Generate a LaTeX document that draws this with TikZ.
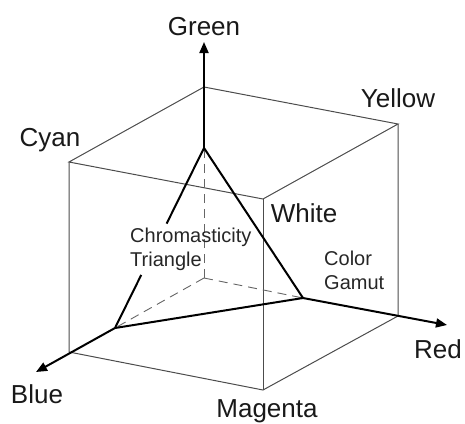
\documentclass[tikz,border=0pt]{standalone}
\usepackage{fontspec}
\setmainfont{Liberation Sans}
\usetikzlibrary{arrows.meta, calc}

\begin{document}
\begin{tikzpicture}[
    x=1pt, y=-1pt,
    edge/.style={draw=black!70, line width=1pt},
    axis/.style={draw=black, line width=2pt},
    hidden/.style={draw=black!60, line width=0.9pt, dash pattern=on 9pt off 6pt},
    arrow/.style={axis, -{Triangle[length=11pt, width=9pt]}},
    tri/.style={draw=black, line width=2pt},
    big/.style={font=\fontsize{26}{30}\selectfont, text=black!90, inner sep=0pt},
    small/.style={font=\fontsize{20}{24}\selectfont, text=black!85, inner sep=0pt, align=left}
]
\useasboundingbox (0,0) rectangle (465,423);

% Cube corners
\coordinate (o) at (204,278);
\coordinate (green) at (204,87);
\coordinate (cyan) at (69,162);
\coordinate (yellow) at (398,124);
\coordinate (white) at (263,199);
\coordinate (blue) at (69,352);
\coordinate (magenta) at (263,390);
\coordinate (red) at (398,316);

% Axis tips and triangle corners
\coordinate (g_tip) at (204,42);
\coordinate (b_tip) at (36,372);
\coordinate (r_tip) at (447,325);
\coordinate (t_g) at (204,148);
\coordinate (t_b) at (115,328);
\coordinate (t_r) at (303,298);

% Cube edges
\draw[edge] (green) -- (cyan) -- (white) -- (yellow) -- cycle;
\draw[edge] (cyan) -- (blue) -- (magenta) -- (red) -- (yellow);
\draw[edge] (white) -- (magenta);

% Hidden parts of the axes
\draw[hidden] (o) -- (t_g);
\draw[hidden] (o) -- (t_b);
\draw[hidden] (o) -- (t_r);

% Axes
\draw[arrow] (t_g) -- (g_tip);
\draw[arrow] (t_b) -- (b_tip);
\draw[arrow] (t_r) -- (r_tip);

% Chromasticity triangle
\draw[tri] (t_g) -- ($(t_g)!0.42!(t_b)$);
\draw[tri] ($(t_g)!0.705!(t_b)$) -- (t_b);
\draw[tri] (t_g) -- (t_r) -- (t_b);

% Labels
\node[big, anchor=base] (l_green) at (204,35) {Green};
\node[big, anchor=base] (l_yellow) at (398,107) {Yellow};
\node[big, anchor=base] (l_cyan) at (50,146) {Cyan};
\node[big, anchor=base] (l_white) at (304,222) {White};
\node[big, anchor=base] (l_red) at (438,358) {Red};
\node[big, anchor=base] (l_blue) at (37,403) {Blue};
\node[big, anchor=base] (l_magenta) at (267,417) {Magenta};
\node[small, anchor=north west] (l_tri) at (130,228) {Chromasticity\\Triangle};
\node[small, anchor=north west] (l_gamut) at (324,251) {Color\\Gamut};

\end{tikzpicture}
\end{document}
